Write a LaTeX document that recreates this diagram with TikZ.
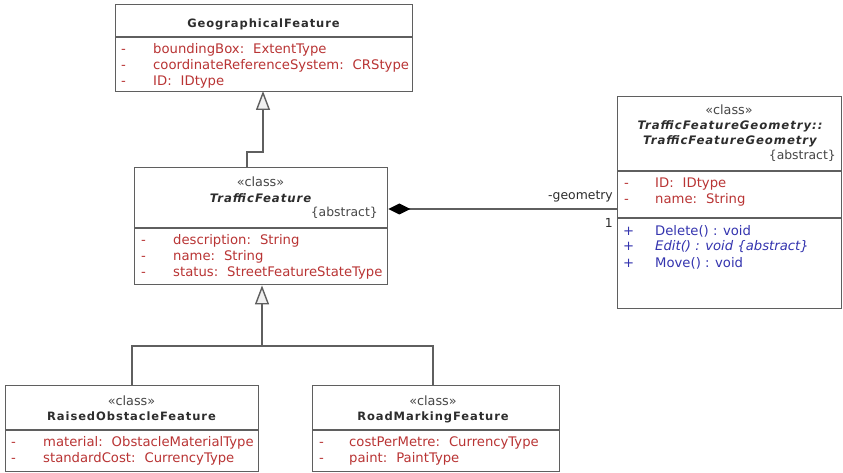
\documentclass[tikz,border=0pt]{standalone}
\usepackage{fontspec}
\setmainfont{DejaVu Sans}
\newfontfamily\umltitle[LetterSpace=8]{DejaVu Sans Bold}
\newfontfamily\umltitleit[LetterSpace=8]{DejaVu Sans Bold Oblique}
\usetikzlibrary{arrows.meta}

\definecolor{attrcol}{RGB}{185,52,52}
\definecolor{opcol}{RGB}{52,52,175}
\definecolor{stereocol}{RGB}{70,70,70}
\definecolor{framecol}{RGB}{95,95,95}
\definecolor{titlecol}{RGB}{45,45,45}

\tikzset{
  classbox/.style={draw=framecol, line width=1.4pt, fill=white, inner sep=0pt,
    anchor=north west},
  divider/.style={draw=framecol, line width=1.4pt},
  basetxt/.style={inner sep=0pt, font=\fontsize{13.2}{15}\selectfont},
  attrtxt/.style={basetxt, anchor=base west, text=attrcol},
  optxt/.style={basetxt, anchor=base west, text=opcol},
  stereotxt/.style={inner sep=0pt, anchor=base, text=stereocol,
    font=\fontsize{12.8}{14}\selectfont},
  abstracttxt/.style={inner sep=0pt, anchor=base east, text=stereocol,
    font=\fontsize{12.4}{14}\selectfont},
  titletxt/.style={inner sep=0pt, anchor=base, text=titlecol,
    font=\fontsize{11.5}{13}\umltitle},
  titleittxt/.style={inner sep=0pt, anchor=base, text=titlecol,
    font=\fontsize{11.7}{13}\umltitleit},
  connector/.style={draw=framecol, line width=1.4pt},
  generalize/.style={connector,
    -{Triangle[length=19pt, width=14pt, fill=black!6, line width=1.4pt]}},
  compose/.style={connector,
    {Diamond[length=22pt, width=11pt, fill=black, color=black]}-},
  rolelabel/.style={inner sep=0pt, anchor=base east, text=titlecol,
    font=\fontsize{12.4}{14}\selectfont},
}

\newcommand{\colgap}{\hspace{9pt}}

\begin{document}
\begin{tikzpicture}[x=1pt, y=-1pt]
  \fill[white] (0,0) rectangle (843,473);
  \useasboundingbox (0,0) rectangle (843,473);

  % ---------- GeographicalFeature ----------
  \node[classbox, minimum width=297pt, minimum height=87pt] (geo) at (115,4) {};
  \draw[divider] (115,37) -- (412,37);
  \node[titletxt] (geoname) at (263.5,28) {GeographicalFeature};
  \node[attrtxt] (geod1) at (121,54) {-};
  \node[attrtxt] (geod2) at (121,70) {-};
  \node[attrtxt] (geod3) at (121,86) {-};
  \node[attrtxt] (geoa1) at (153,54) {boundingBox:\colgap ExtentType};
  \node[attrtxt] (geoa2) at (153,70) {coordinateReferenceSystem:\colgap CRStype};
  \node[attrtxt] (geoa3) at (153,86) {ID:\colgap IDtype};

  % ---------- TrafficFeature ----------
  \node[classbox, minimum width=253pt, minimum height=117pt] (tf) at (134,167) {};
  \draw[divider] (134,228) -- (387,228);
  \node[stereotxt] (tfst) at (260.5,187) {«class»};
  \node[titleittxt] (tfname) at (260.5,203) {TrafficFeature};
  \node[abstracttxt] (tfabs) at (378,216) {\{abstract\}};
  \node[attrtxt] (tfd1) at (141,244) {-};
  \node[attrtxt] (tfd2) at (141,260) {-};
  \node[attrtxt] (tfd3) at (141,276) {-};
  \node[attrtxt] (tfa1) at (173,244) {description:\colgap String};
  \node[attrtxt] (tfa2) at (173,260) {name:\colgap String};
  \node[attrtxt] (tfa3) at (173,276) {status:\colgap StreetFeatureStateType};

  % ---------- TrafficFeatureGeometry ----------
  \node[classbox, minimum width=224pt, minimum height=212pt] (geom) at (617,96) {};
  \draw[divider] (617,171) -- (841,171);
  \draw[divider] (617,218) -- (841,218);
  \node[stereotxt] (geomst) at (729,115) {«class»};
  \node[titleittxt] (geomn1) at (730,130) {TrafficFeatureGeometry::};
  \node[titleittxt] (geomn2) at (730,145) {TrafficFeatureGeometry};
  \node[abstracttxt] (geomabs) at (836,160) {\{abstract\}};
  \node[attrtxt] (geomd1) at (624,188) {-};
  \node[attrtxt] (geomd2) at (624,204) {-};
  \node[attrtxt] (geoma1) at (655,188) {ID:\colgap IDtype};
  \node[attrtxt] (geoma2) at (655,204) {name:\colgap String};
  \node[optxt] (geomp1) at (623,235) {+};
  \node[optxt] (geomp2) at (623,251) {+};
  \node[optxt] (geomp3) at (623,267) {+};
  \node[optxt] (geomo1) at (655,235) {Delete() : void};
  \node[optxt] (geomo2) at (655,251) {\itshape Edit() : void \{abstract\}};
  \node[optxt] (geomo3) at (655,267) {Move() : void};

  % ---------- RaisedObstacleFeature ----------
  \node[classbox, minimum width=253pt, minimum height=86pt] (raised) at (5,385) {};
  \draw[divider] (5,430) -- (258,430);
  \node[stereotxt] (raisedst) at (131.5,405) {«class»};
  \node[titletxt] (raisedname) at (131.5,420) {RaisedObstacleFeature};
  \node[attrtxt] (raisedd1) at (11,446) {-};
  \node[attrtxt] (raisedd2) at (11,462) {-};
  \node[attrtxt] (raiseda1) at (43,446) {material:\colgap ObstacleMaterialType};
  \node[attrtxt] (raiseda2) at (43,462) {standardCost:\colgap CurrencyType};

  % ---------- RoadMarkingFeature ----------
  \node[classbox, minimum width=247pt, minimum height=86pt] (road) at (312,385) {};
  \draw[divider] (312,430) -- (559,430);
  \node[stereotxt] (roadst) at (433,405) {«class»};
  \node[titletxt] (roadname) at (433,420) {RoadMarkingFeature};
  \node[attrtxt] (roadd1) at (319,446) {-};
  \node[attrtxt] (roadd2) at (319,462) {-};
  \node[attrtxt] (roada1) at (349,446) {costPerMetre:\colgap CurrencyType};
  \node[attrtxt] (roada2) at (349,462) {paint:\colgap PaintType};

  % ---------- connectors ----------
  % TrafficFeature specialises GeographicalFeature
  \coordinate (tfjoin) at (247,167);
  \coordinate (geojoin) at (263,91);
  \draw[generalize] (tfjoin) |- (geojoin |- 0,152) -- (geojoin);

  % subclasses of TrafficFeature
  \coordinate (hub) at (262,346);
  \coordinate (raisedjoin) at (132,385);
  \coordinate (roadjoin) at (433,385);
  \draw[connector] (raisedjoin) |- (roadjoin |- hub) -- (roadjoin);
  \draw[generalize] (hub) -- (hub |- tf.south);

  % composition with TrafficFeatureGeometry
  \coordinate (complevel) at (0,209);
  \draw[compose] (tf.east |- complevel) -- (geom.west |- complevel);
  \node[rolelabel] (role) at (613,200) {-geometry};
  \node[rolelabel] (mult) at (613,227) {1};
\end{tikzpicture}
\end{document}
